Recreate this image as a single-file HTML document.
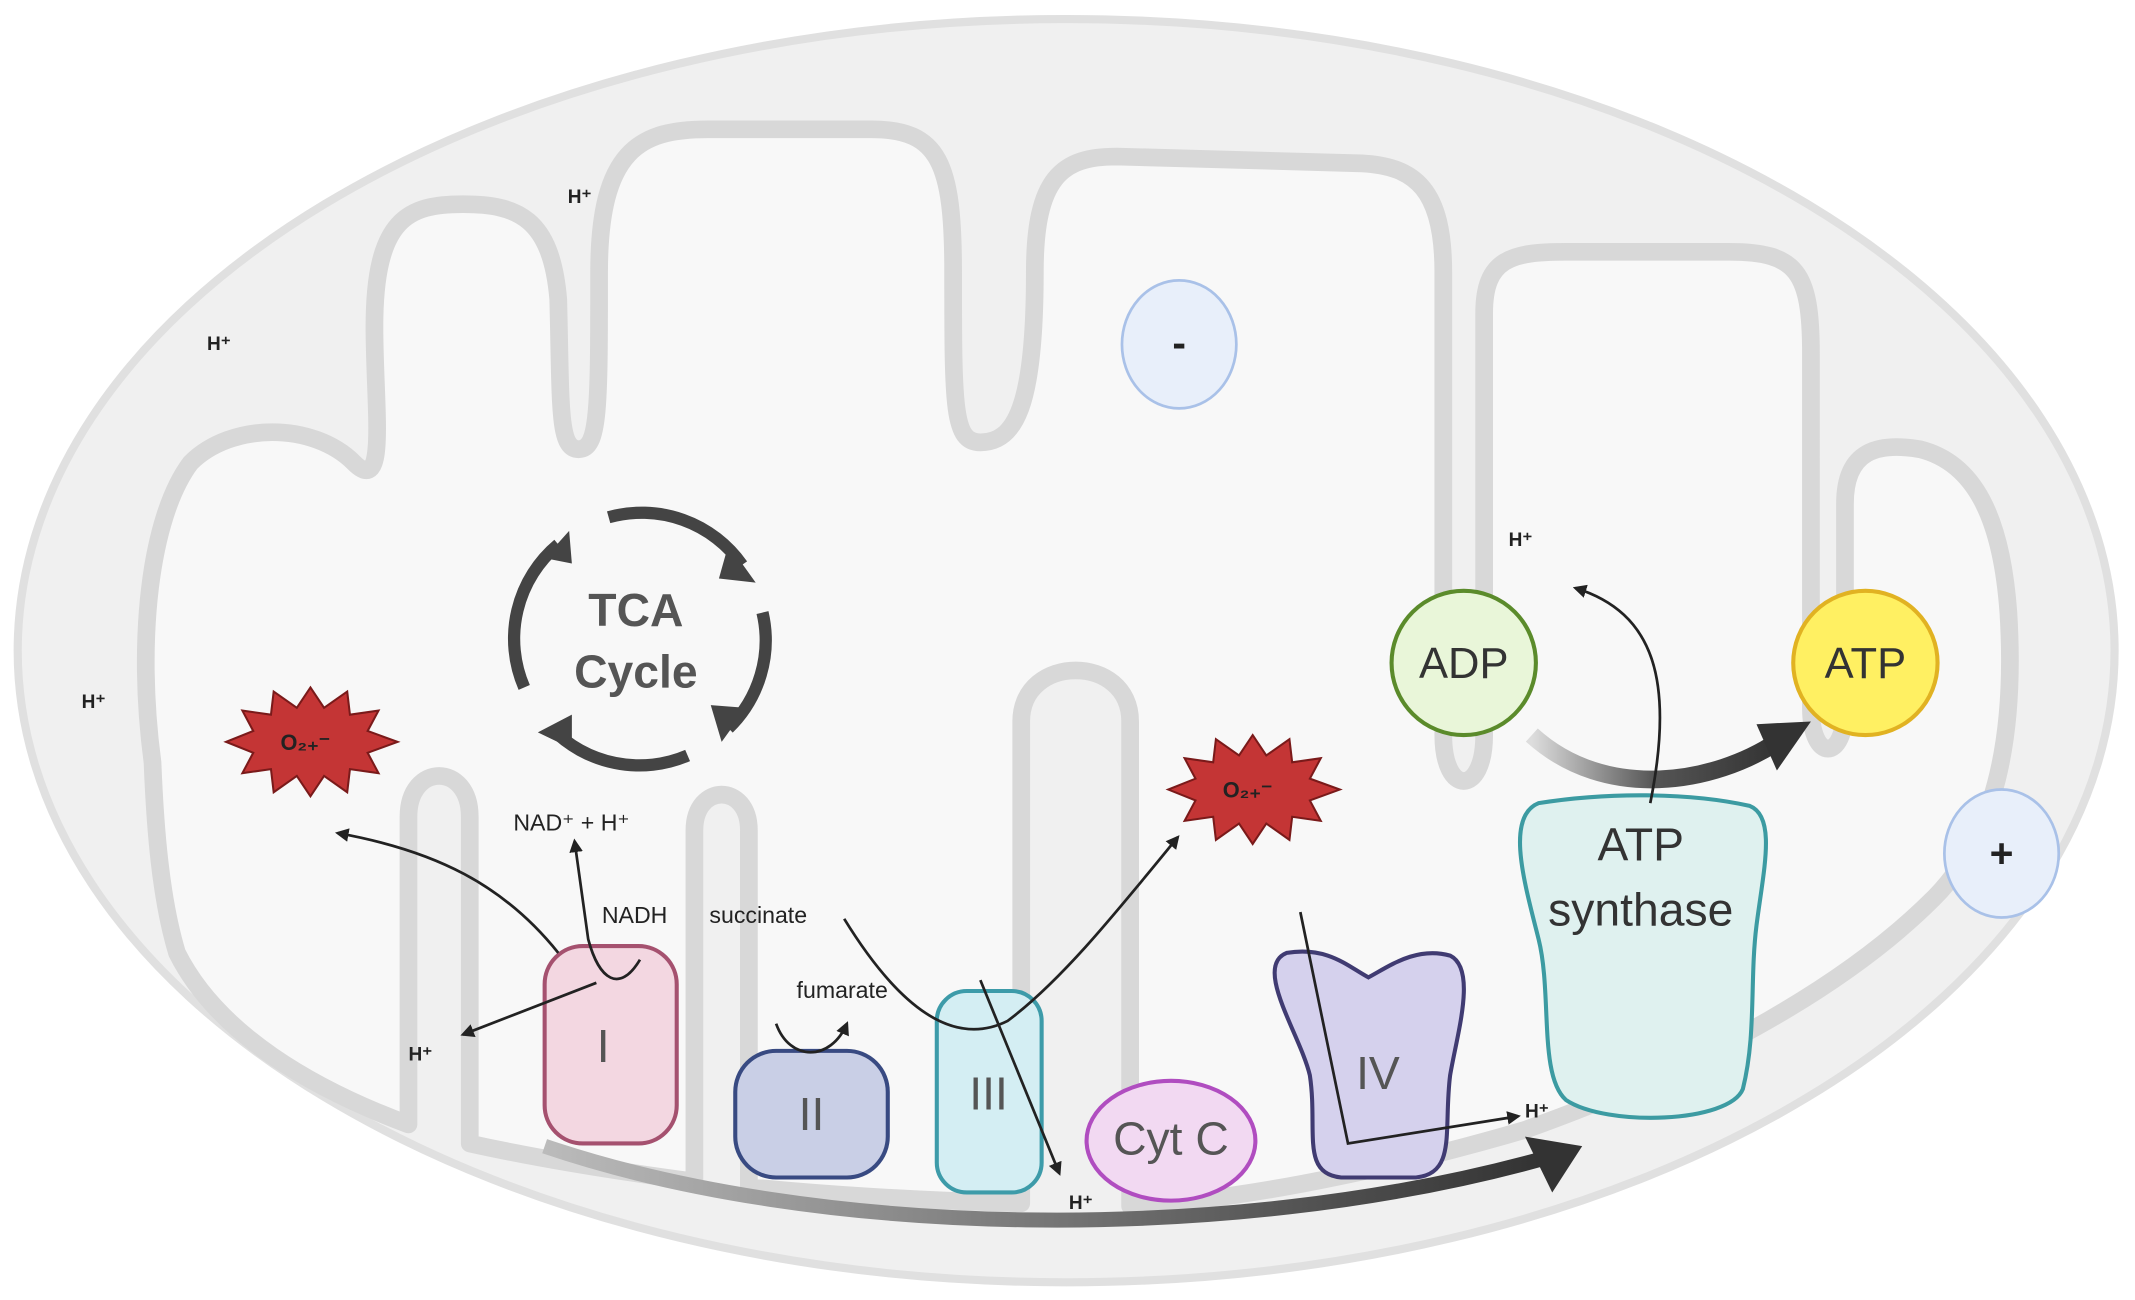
<!DOCTYPE html>
<html><head><meta charset="utf-8"><style>
html,body{margin:0;padding:0;background:#fff;}
svg{display:block}
text{font-family:"Liberation Sans",sans-serif}
</style></head><body>
<svg width="2135" height="1300" viewBox="0 0 1568 955" preserveAspectRatio="none" xmlns="http://www.w3.org/2000/svg">
<defs>
<marker id="ah" markerWidth="10" markerHeight="10" refX="8" refY="5" orient="auto" markerUnits="userSpaceOnUse"><path d="M0,0 L10,5 L0,10 z" fill="#222"/></marker>
<linearGradient id="g1" x1="0" x2="1" y1="0" y2="0"><stop offset="0" stop-color="#bbb"/><stop offset="1" stop-color="#333"/></linearGradient>
<linearGradient id="g2" x1="0" x2="1" y1="0" y2="0"><stop offset="0" stop-color="#ddd"/><stop offset="0.5" stop-color="#555"/><stop offset="1" stop-color="#333"/></linearGradient>
</defs>
<rect width="1568" height="955" fill="#fff"/>
<ellipse cx="783" cy="478" rx="770" ry="464" fill="#f0f0f0" stroke="#e0e0e0" stroke-width="6"/>
<path d="M112,560 C100,470 110,380 140,340 C170,310 230,310 260,340 C285,365 275,300 275,240 C275,160 300,150 340,150 C380,150 405,160 410,220 C412,300 410,330 425,330 C440,330 440,300 440,200 C440,110 470,95 520,95 L640,95 C690,95 700,120 700,200 C700,300 700,325 720,325 C745,325 760,300 760,200 C760,130 780,115 820,115 L1000,120 C1040,122 1060,140 1060,200 L1060,540 C1060,585 1090,585 1090,540 L1090,230 C1090,190 1110,185 1150,185 L1270,185 C1320,185 1330,200 1330,260 L1330,520 C1330,560 1355,560 1355,520 L1355,370 C1355,330 1380,325 1410,330 C1450,340 1470,380 1475,450 C1480,530 1470,610 1420,660 C1360,720 1260,780 1120,830 C1000,865 900,882 830,886 L830,530 C830,480 750,480 750,530 L750,884 C680,882 610,878 550,872 L550,610 C550,575 510,575 510,610 L510,868 C450,860 390,850 345,840 L345,600 C345,560 300,560 300,600 L300,826 C230,800 160,760 130,700 C118,660 114,610 112,560 Z" fill="#f8f8f8" stroke="#d8d8d8" stroke-width="13" stroke-linejoin="round"/>
<!-- H+ labels -->
<g font-size="14" font-weight="bold" fill="#222">
<text x="417" y="149">H⁺</text><text x="152" y="257">H⁺</text><text x="60" y="520">H⁺</text>
<text x="1108" y="401">H⁺</text><text x="300" y="779">H⁺</text><text x="785" y="888">H⁺</text><text x="1120" y="821">H⁺</text>
</g>
<!-- charges -->
<ellipse cx="866" cy="253" rx="42" ry="47" fill="#e8effa" stroke="#a9c1e8" stroke-width="2"/>
<text x="866" y="262" font-size="30" font-weight="bold" text-anchor="middle" fill="#222">-</text>
<ellipse cx="1470" cy="627" rx="42" ry="47" fill="#e8effa" stroke="#a9c1e8" stroke-width="2"/>
<text x="1470" y="637" font-size="30" font-weight="bold" text-anchor="middle" fill="#222">+</text>
<!-- TCA -->
<g fill="none" stroke="#444" stroke-width="9">
<path d="M447,380 A90,90 0 0 1 545,415"/>
<path d="M560,450 A90,90 0 0 1 535,535"/>
<path d="M505,555 A90,90 0 0 1 405,535"/>
<path d="M385,505 A90,90 0 0 1 410,400"/>
</g>
<g fill="#444">
<path d="M535,400 L555,428 L528,425 z"/>
<path d="M548,520 L530,545 L522,518 z"/>
<path d="M420,525 L395,538 L420,550 z"/>
<path d="M400,410 L418,390 L420,414 z"/>
</g>
<text x="467" y="460" font-size="34" font-weight="bold" text-anchor="middle" fill="#555">TCA</text>
<text x="467" y="505" font-size="34" font-weight="bold" text-anchor="middle" fill="#555">Cycle</text>
<!-- O2 stars -->
<polygon points="228,505 238,520 255,508 257,525 278,522 270,537 292,545 270,553 278,568 257,565 255,582 238,570 228,585 218,570 201,582 199,565 178,568 186,553 166,545 186,537 178,522 199,525 201,508 218,520" fill="#c43535" stroke="#7a1a1a" stroke-width="1.5"/>
<text x="206" y="551" font-size="16" font-weight="bold" fill="#222">O₂₊⁻</text>
<polygon points="920,540 930,555 947,543 949,560 970,557 962,572 984,580 962,588 970,603 949,600 947,617 930,605 920,620 910,605 893,617 891,600 870,603 878,588 858,580 878,572 870,557 891,560 893,543 910,555" fill="#c43535" stroke="#7a1a1a" stroke-width="1.5"/>
<text x="898" y="586" font-size="16" font-weight="bold" fill="#222">O₂₊⁻</text>
<!-- Complexes -->
<rect x="400" y="695" width="97" height="145" rx="28" fill="#f3d7e1" stroke="#a5516f" stroke-width="3"/>
<text x="443" y="780" font-size="34" text-anchor="middle" fill="#555">I</text>
<rect x="540" y="772" width="112" height="93" rx="30" fill="#c9cfe6" stroke="#384a82" stroke-width="3"/>
<text x="596" y="830" font-size="34" text-anchor="middle" fill="#555">II</text>
<rect x="688" y="728" width="77" height="148" rx="22" fill="#d4eef3" stroke="#3d9ba9" stroke-width="3"/>
<text x="726" y="815" font-size="34" text-anchor="middle" fill="#555">III</text>
<ellipse cx="860" cy="838" rx="62" ry="44" fill="#f2d9f2" stroke="#b04dc0" stroke-width="3"/>
<text x="860" y="848" font-size="34" text-anchor="middle" fill="#555">Cyt C</text>
<path d="M945,700 C975,695 990,710 1005,718 C1020,710 1040,695 1065,702 C1085,712 1070,760 1065,790 C1060,830 1070,862 1040,865 L985,865 C955,862 968,830 962,790 C955,760 920,710 945,700 Z" fill="#d5d1ed" stroke="#403b72" stroke-width="3"/>
<text x="1012" y="800" font-size="34" text-anchor="middle" fill="#555">IV</text>
<path d="M1130,590 C1180,582 1240,582 1285,592 C1305,600 1295,640 1290,680 C1285,720 1290,760 1280,800 C1270,825 1180,828 1150,808 C1130,790 1140,730 1130,690 C1120,650 1105,600 1130,590 Z" fill="#dff1ef" stroke="#3c9ba2" stroke-width="3"/>
<text x="1205" y="632" font-size="34" text-anchor="middle" fill="#333">ATP</text>
<text x="1205" y="680" font-size="34" text-anchor="middle" fill="#333">synthase</text>
<circle cx="1075" cy="487" r="53" fill="#e9f6d9" stroke="#5b8b2b" stroke-width="3"/>
<text x="1075" y="498" font-size="32" text-anchor="middle" fill="#333">ADP</text>
<circle cx="1370" cy="487" r="53" fill="#fff062" stroke="#e1b222" stroke-width="3"/>
<text x="1370" y="498" font-size="32" text-anchor="middle" fill="#333">ATP</text>
<!-- big arrows -->
<path d="M400,842 C600,910 900,915 1130,852" fill="none" stroke="url(#g1)" stroke-width="11"/>
<path d="M1162,842 L1120,835 L1140,876 z" fill="#333"/>
<path d="M1125,540 C1180,590 1260,575 1305,545" fill="none" stroke="url(#g2)" stroke-width="13"/>
<path d="M1330,530 L1290,532 L1305,566 z" fill="#333"/>
<!-- thin arrows -->
<g fill="none" stroke="#222" stroke-width="2">
<path d="M410,700 C370,650 320,625 248,612" marker-end="url(#ah)"/>
<path d="M470,705 C455,730 440,720 432,690 L422,618" marker-end="url(#ah)"/>
<path d="M438,722 L340,760" marker-end="url(#ah)"/>
<path d="M570,752 C580,780 610,780 622,752" marker-end="url(#ah)"/>
<path d="M620,675 C660,740 700,770 740,750 C780,720 820,670 865,615" marker-end="url(#ah)"/>
<path d="M720,720 L778,862" marker-end="url(#ah)"/>
<path d="M955,670 L990,840 L1115,820" marker-end="url(#ah)"/>
<path d="M1212,590 C1230,500 1215,450 1157,432" marker-end="url(#ah)"/>
</g>
<g font-size="17" fill="#222">
<text x="377" y="610">NAD⁺ + H⁺</text>
<text x="442" y="678">NADH</text>
<text x="521" y="678">succinate</text>
<text x="585" y="733">fumarate</text>
</g>
</svg>
</body></html>
